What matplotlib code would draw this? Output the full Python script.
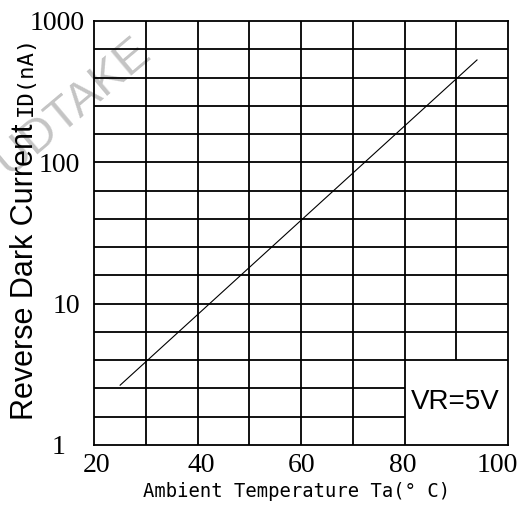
import numpy as np
import matplotlib
matplotlib.use("Agg")
import matplotlib.pyplot as plt
from matplotlib.transforms import ScaledTranslation

# data (straight line on log scale)
temp = [25, 94]
dark_current = [2.65, 530]

x_ticks = [20, 40, 60, 80, 100]
y_ticks = [1, 10, 100, 1000]
y_tick_labels = ["1", "10", "100", "1000"]

# grid: 5 equal steps per decade
grid_x = [30, 40, 50, 60, 70, 80, 90]
grid_y = [10 ** (k / 5) for k in range(1, 15)]

fig = plt.figure(figsize=(5.2, 5.07), dpi=100)
ax = fig.add_axes([0.1813, 0.1223, 0.7957, 0.8363])
ax.patch.set_alpha(0)
ax.set_yscale("log")
ax.set_xlim(20, 100)
ax.set_ylim(1, 1000)

lw = 1.3
box_top = 10 ** 0.6
for gx in grid_x:
    y0 = box_top if gx == 90 else 1
    ax.vlines(gx, y0, 1000, color="black", lw=lw)
for gy in grid_y:
    x1 = 80 if gy < box_top * 0.99 else 100
    ax.hlines(gy, 20, x1, color="black", lw=lw)

ax.plot(temp, dark_current, color="black", lw=0.8)

for s in ax.spines.values():
    s.set_linewidth(lw)

ax.yaxis.set_minor_locator(matplotlib.ticker.NullLocator())
ax.tick_params(length=0)
ax.tick_params(axis="x", pad=6)
ax.tick_params(axis="y", pad=10)
ax.set_xticks(x_ticks)
ax.set_xticklabels([str(v) for v in x_ticks], fontfamily="Liberation Serif", fontsize=20)
ax.set_yticks(y_ticks)
ax.set_yticklabels(y_tick_labels, fontfamily="Liberation Serif", fontsize=20)

# hand-placed labels in the original: small per-label shifts (pixels)
def shift(label, dx):
    label.set_transform(label.get_transform() + ScaledTranslation(dx / 100, 0, fig.dpi_scale_trans))

for lab, dx in zip(ax.get_xticklabels(), [2, 4, 0, -2, -11]):
    shift(lab, dx)
for lab, dx in zip(ax.get_yticklabels(), [-15, 0, 0, 4]):
    shift(lab, dx)

ax.text(81.2, 2.0, "VR=5V", fontfamily="Liberation Sans", fontsize=20,
        ha="left", va="center")

fig.text(0.57, 0.012, "Ambient Temperature Ta(° C)", fontfamily="DejaVu Sans Mono",
         fontsize=13.6, ha="center", va="bottom")

t1 = fig.text(0.0635, 0.1716, "Reverse Dark Current", fontfamily="Liberation Sans",
              fontsize=22, rotation=90, rotation_mode="anchor", ha="left", va="baseline")
fig.canvas.draw()
bb = t1.get_window_extent().transformed(fig.transFigure.inverted())
fig.text(0.062, bb.y1 + 0.014, "ID(nA)", fontfamily="DejaVu Sans Mono",
         fontsize=16, rotation=90, rotation_mode="anchor", ha="left", va="baseline")

# watermark
fig.text(0.14, 0.79, "UDTAKE", fontfamily="Liberation Sans", fontsize=34,
         color="#c4c4c4", rotation=40, ha="center", va="center", zorder=-1)

fig.savefig("out.png", dpi=100)
